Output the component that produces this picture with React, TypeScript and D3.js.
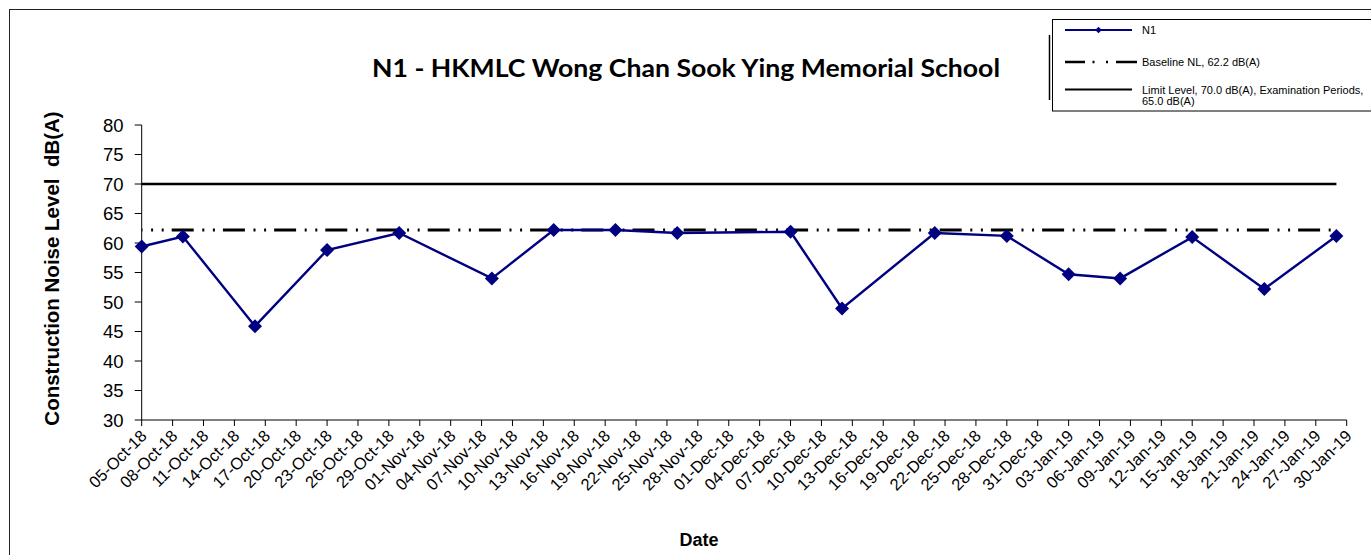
import React from 'react';
import * as d3 from 'd3';

const measureDates = [
  '05-Oct-18', '09-Oct-18', '16-Oct-18', '23-Oct-18', '30-Oct-18', '08-Nov-18',
  '14-Nov-18', '20-Nov-18', '26-Nov-18', '07-Dec-18', '12-Dec-18', '21-Dec-18',
  '28-Dec-18', '03-Jan-19', '08-Jan-19', '15-Jan-19', '22-Jan-19', '29-Jan-19',
];
const n1Values = [59.4, 61.1, 45.9, 58.8, 61.7, 54.0, 62.2, 62.2, 61.7, 61.9, 48.9, 61.7, 61.2, 54.7, 54.0, 61.0, 52.2, 61.2];
const baselineLevel = 62.2;
const limitLevel = 70.0;
const tickLabels = [
  '05-Oct-18', '08-Oct-18', '11-Oct-18', '14-Oct-18', '17-Oct-18', '20-Oct-18', '23-Oct-18', '26-Oct-18',
  '29-Oct-18', '01-Nov-18', '04-Nov-18', '07-Nov-18', '10-Nov-18', '13-Nov-18', '16-Nov-18', '19-Nov-18',
  '22-Nov-18', '25-Nov-18', '28-Nov-18', '01-Dec-18', '04-Dec-18', '07-Dec-18', '10-Dec-18', '13-Dec-18',
  '16-Dec-18', '19-Dec-18', '22-Dec-18', '25-Dec-18', '28-Dec-18', '31-Dec-18', '03-Jan-19', '06-Jan-19',
  '09-Jan-19', '12-Jan-19', '15-Jan-19', '18-Jan-19', '21-Jan-19', '24-Jan-19', '27-Jan-19', '30-Jan-19',
];
const yTicks = [30, 35, 40, 45, 50, 55, 60, 65, 70, 75, 80];

const parse = d3.utcParse('%d-%b-%y');

export default function App() {
  const W = 1371, H = 555;
  const x0 = 141.7, x1 = 1346.7, yTop = 125, yBot = 420;
  const ticks = tickLabels.map((t) => parse(t) as Date);
  const x = d3.scaleUtc().domain([ticks[0], ticks[ticks.length - 1]]).range([x0, x1]);
  const y = d3.scaleLinear().domain([30, 80]).range([yBot, yTop]);

  const pts = measureDates.map((d, i) => ({ d: parse(d) as Date, v: n1Values[i] }));
  const line = d3.line<{ d: Date; v: number }>().x((p) => x(p.d)).y((p) => y(p.v));
  const first = pts[0].d, last = pts[pts.length - 1].d;
  const diamond = d3.symbol(d3.symbolSquare, 98)();
  const diamondSmall = d3.symbol(d3.symbolSquare, 22)();
  const font = 'Arial, "Liberation Sans", sans-serif';

  return (
    <svg width={W} height={H} style={{ position: 'absolute', left: 0, top: 0, background: '#fff' }}>
      <rect x={0} y={0} width={W} height={H} fill="#fff" />
      <rect x={9.5} y={9.5} width={1400} height={600} fill="none" stroke="#222" strokeWidth={1} />

      {/* title */}
      <text x={686} y={77} textAnchor="middle" fontFamily="Lato, 'Open Sans', sans-serif" fontWeight="bold" fontSize={25}
        textLength={628} lengthAdjust="spacingAndGlyphs" fill="#000">
        N1 - HKMLC Wong Chan Sook Ying Memorial School
      </text>

      {/* y axis */}
      <line x1={x0} x2={x0} y1={yTop} y2={yBot} stroke="#000" strokeWidth={1} />
      {yTicks.map((t) => (
        <g key={t}>
          <line x1={x0 - 7} x2={x0} y1={y(t)} y2={y(t)} stroke="#000" strokeWidth={1} />
          <text x={123.5} y={y(t) + 6.5} textAnchor="end" fontFamily={font} fontSize={18.5} fill="#000">{t}</text>
        </g>
      ))}
      <text transform={`translate(59,268.5) rotate(-90)`} textAnchor="middle" fontFamily={font} fontWeight="bold" fontSize={20.5} fill="#000">
        {'Construction Noise Level\u00A0\u00A0dB(A)'}
      </text>

      {/* x axis */}
      <line x1={x0} x2={x1} y1={yBot} y2={yBot} stroke="#000" strokeWidth={1} />
      {ticks.map((t, i) => (
        <g key={i}>
          <line x1={x(t)} x2={x(t)} y1={yBot} y2={yBot + 6} stroke="#000" strokeWidth={1} />
          <text transform={`translate(${x(t) + 6},${yBot + 17}) rotate(-45)`} textAnchor="end" fontFamily={font} fontSize={16.5} fill="#000">
            {tickLabels[i]}
          </text>
        </g>
      ))}
      <text x={699} y={546} textAnchor="middle" fontFamily={font} fontWeight="bold" fontSize={18} fill="#000">Date</text>

      {/* limit line */}
      <line x1={x(first)} x2={x(last)} y1={y(limitLevel)} y2={y(limitLevel)} stroke="#000" strokeWidth={2.6} />
      {/* baseline */}
      <line x1={x(first)} x2={x(last)} y1={y(baselineLevel)} y2={y(baselineLevel)} stroke="#000" strokeWidth={2.8}
        strokeDasharray="22,8.6,2,8.6,2,8" strokeDashoffset={21.2} />

      {/* N1 series */}
      <path d={line(pts) || ''} fill="none" stroke="#000080" strokeWidth={2.4} />
      {pts.map((p, i) => (
        <path key={i} d={diamond || ''} transform={`translate(${x(p.d)},${y(p.v)}) rotate(45)`} fill="#000080" />
      ))}

      {/* legend */}
      <line x1={1049.5} x2={1049.5} y1={35} y2={100} stroke="#000" strokeWidth={1.5} />
      <rect x={1052.5} y={19.5} width={400} height={91.5} fill="#fff" stroke="#000" strokeWidth={1} />
      <line x1={1065} x2={1132} y1={30} y2={30} stroke="#000080" strokeWidth={2} />
      <path d={diamondSmall || ''} transform="translate(1098.5,30) rotate(45)" fill="#000080" />
      <text x={1142} y={34} fontFamily={font} fontSize={11} fill="#000">N1</text>
      <line x1={1065} x2={1137} y1={62} y2={62} stroke="#000" strokeWidth={2.6} strokeDasharray="20,7.5,2,11.5,2,8,21" />
      <text x={1142} y={66} fontFamily={font} fontSize={11} fill="#000">Baseline NL, 62.2 dB(A)</text>
      <line x1={1065} x2={1132} y1={89.5} y2={89.5} stroke="#000" strokeWidth={2} />
      <text x={1142} y={93.5} fontFamily={font} fontSize={11} fill="#000">Limit Level, 70.0 dB(A), Examination Periods,</text>
      <text x={1142} y={105} fontFamily={font} fontSize={11} fill="#000">65.0 dB(A)</text>
    </svg>
  );
}
